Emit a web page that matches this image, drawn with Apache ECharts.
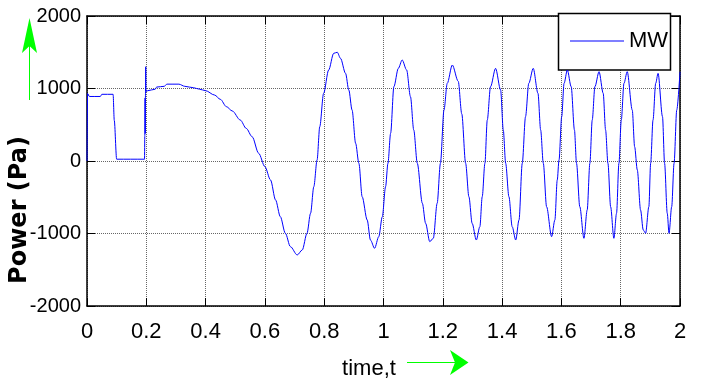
<!DOCTYPE html>
<html>
<head>
<meta charset="utf-8">
<script src="https://cdn.jsdelivr.net/npm/echarts@6/dist/echarts.min.js"></script>
<style>
  html, body { margin: 0; padding: 0; background: #fff; }
  #chart { width: 701px; height: 384px; }
</style>
</head>
<body>
<div id="chart"></div>
<script>
// time in seconds, power in Pa
const timeValues = [
  0, 0.002, 0.008, 0.045, 0.05, 0.088, 0.092, 0.1, 0.194, 0.195,
  0.196, 0.1965, 0.197, 0.198, 0.199, 0.205, 0.23, 0.235, 0.26, 0.27,
  0.31, 0.33, 0.36, 0.38, 0.4, 0.43, 0.45, 0.47, 0.49, 0.517,
  0.537, 0.557, 0.579, 0.6, 0.619, 0.636, 0.652, 0.669, 0.686, 0.709,
  0.726, 0.742, 0.754, 0.765, 0.776, 0.785, 0.798, 0.815, 0.832, 0.844,
  0.855, 0.872, 0.883, 0.894, 0.906, 0.917, 0.928, 0.945, 0.956, 0.97,
  0.984, 0.996, 1.007, 1.015, 1.024, 1.035, 1.05, 1.063, 1.078, 1.091,
  1.102, 1.114, 1.131, 1.142, 1.156, 1.168, 1.181, 1.192, 1.204, 1.215,
  1.232, 1.252, 1.264, 1.277, 1.288, 1.299, 1.313, 1.325, 1.333, 1.342,
  1.35, 1.361, 1.378, 1.395, 1.404, 1.412, 1.423, 1.434, 1.446, 1.457,
  1.468, 1.479, 1.49, 1.505, 1.521, 1.53, 1.539, 1.55, 1.567, 1.578,
  1.586, 1.592, 1.601, 1.609, 1.62, 1.633, 1.644, 1.651, 1.662, 1.676,
  1.687, 1.696, 1.704, 1.713, 1.727, 1.741, 1.749, 1.757, 1.766, 1.777,
  1.786, 1.794, 1.802, 1.811, 1.822, 1.839, 1.847, 1.856, 1.867, 1.876,
  1.884, 1.895, 1.901, 1.909, 1.918, 1.926, 1.941, 1.948, 1.957, 1.963,
  1.972, 1.98, 1.989, 2.0
];
const powerValues = [
  0, 930, 890, 890, 920, 920, 560, 25, 25, 350,
  870, 380, 860, 1300, 960, 970, 990, 1020, 1030, 1060,
  1060, 1030, 1010, 990, 970, 910, 850, 750, 690, 565,
  450, 335, 106, -78, -262, -538, -768, -997, -1181, -1296,
  -1227, -997, -721, -354, 14, 473, 933, 1255, 1485, 1500,
  1416, 1209, 979, 703, 244, -32, -492, -814, -1090, -1204,
  -1044, -768, -354, -32, 382, 1025, 1278, 1393, 1255, 887,
  428, -32, -583, -859, -1112, -1066, -583, -32, 703, 1071,
  1324, 1100, 650, -32, -492, -860, -1090, -906, -492, -32,
  565, 1025, 1278, 979, 428, -32, -492, -906, -1090, -814,
  -32, 611, 1071, 1278, 933, 428, -32, -630, -1044, -814,
  -262, 14, 611, 1071, 1255, 1025, 428, -32, -630, -1066,
  -676, -32, 565, 1025, 1232, 933, 428, -32, -630, -1066,
  -721, -32, 565, 1071, 1232, 703, 197, -124, -676, -951,
  -997, -630, -32, 565, 1071, 1209, 611, -32, -721, -997,
  -630, -32, 703, 1230
];
const xTickLabels = ['0', '0.2', '0.4', '0.6', '0.8', '1', '1.2', '1.4', '1.6', '1.8', '2'];
const yTickLabels = ['-2000', '-1000', '0', '1000', '2000'];

const seriesData = timeValues.map((t, i) => [t, powerValues[i]]);

const labelFont = {
  fontFamily: 'Liberation Sans, Arial',
  fontSize: 22,
  color: '#000',
};
const green = '#00ff00';

const chart = echarts.init(document.getElementById('chart'));

const option = {
  backgroundColor: '#fff',
  animation: false,
  grid: { left: 87, right: 21, top: 16, bottom: 78, outerBoundsMode: 'none' },
  legend: {
    left: 570,
    top: 30,
    padding: 0,
    icon: 'rect',
    itemWidth: 54,
    itemHeight: 1.2,
    textStyle: labelFont,
    data: ['MW'],
  },
  xAxis: [
    {
      type: 'value',
      min: 0,
      max: 2,
      interval: 0.2,
      name: 'time,t',
      nameLocation: 'middle',
      nameGap: 52,
      nameMoveOverlap: false,
      nameTextStyle: Object.assign({}, labelFont, { padding: [0, 29, 0, 0] }),
      axisLine: { onZero: false, lineStyle: { color: '#000', width: 1.5 } },
      axisTick: { inside: true, length: 8, lineStyle: { color: '#000' } },
      axisLabel: Object.assign({}, labelFont, {
        margin: 15,
        formatter: (v) => xTickLabels[Math.round(v / 0.2)],
      }),
      splitLine: { show: true, lineStyle: { color: '#666', type: 'dotted', width: 1 } },
    },
    {
      type: 'value',
      position: 'top',
      min: 0,
      max: 2,
      interval: 0.2,
      axisLine: { onZero: false, lineStyle: { color: '#000', width: 1.5 } },
      axisTick: { inside: true, length: 8, lineStyle: { color: '#000' } },
      axisLabel: { show: false },
      splitLine: { show: false },
    },
  ],
  yAxis: [
    {
      type: 'value',
      min: -2000,
      max: 2000,
      interval: 1000,
      name: 'Power (Pa)',
      nameLocation: 'middle',
      nameGap: 55,
      nameMoveOverlap: false,
      nameTextStyle: {
        fontFamily: 'DejaVu Sans',
        fontWeight: 'bold',
        fontSize: 24,
        color: '#000',
        padding: [0, 98, 0, 0],
      },
      axisLine: { show: true, onZero: false, lineStyle: { color: '#000', width: 1.5 } },
      axisTick: { show: true, inside: true, length: 8, lineStyle: { color: '#000' } },
      axisLabel: Object.assign({}, labelFont, {
        fontSize: 20,
        margin: 6,
        formatter: (v) => yTickLabels[Math.round((v + 2000) / 1000)],
      }),
      splitLine: { show: true, lineStyle: { color: '#666', type: 'dotted', width: 1 } },
    },
    {
      type: 'value',
      position: 'right',
      min: -2000,
      max: 2000,
      interval: 1000,
      axisLine: { show: true, onZero: false, lineStyle: { color: '#000', width: 1.5 } },
      axisTick: { show: true, inside: true, length: 8, lineStyle: { color: '#000' } },
      axisLabel: { show: false },
      splitLine: { show: false },
    },
  ],
  series: [
    {
      name: 'MW',
      type: 'line',
      data: seriesData,
      symbol: 'none',
      smooth: 0.3,
      smoothMonotone: 'x',
      lineStyle: { color: '#0000ff', width: 1 },
      itemStyle: { color: '#0000ff' },
    },
  ],
  graphic: [
    // legend frame, drawn over the curve and under the legend entry
    {
      type: 'rect',
      z: 3,
      shape: { x: 558.5, y: 13.5, width: 112, height: 56.5 },
      style: { fill: '#fff', stroke: '#000', lineWidth: 1.5 },
    },
    // upward arrow next to the y label
    {
      type: 'line',
      shape: { x1: 29.5, y1: 100, x2: 29.5, y2: 44 },
      style: { stroke: green, lineWidth: 1 },
    },
    {
      type: 'polygon',
      shape: { points: [[29.5, 18], [37, 53], [29.5, 46], [22, 53]] },
      style: { fill: green },
    },
    // arrow after the x label
    {
      type: 'line',
      shape: { x1: 407, y1: 362.5, x2: 455, y2: 362.5 },
      style: { stroke: green, lineWidth: 1.2 },
    },
    {
      type: 'polygon',
      shape: { points: [[468.5, 362.5], [450, 375], [455, 362.5], [450, 350]] },
      style: { fill: green },
    },
  ],
};

chart.setOption(option);
</script>
</body>
</html>
